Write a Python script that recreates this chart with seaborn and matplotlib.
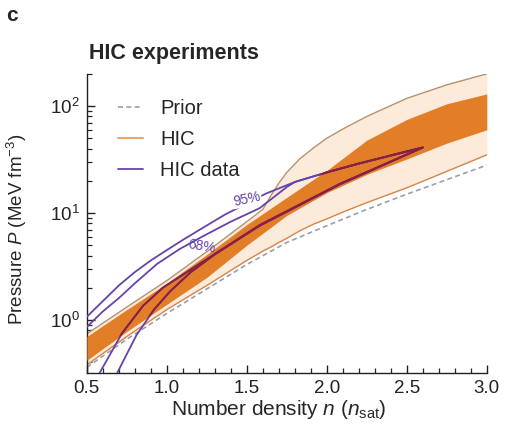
import matplotlib
matplotlib.use("Agg")
import numpy as np
import pandas as pd
import matplotlib.pyplot as plt
from matplotlib.lines import Line2D
from matplotlib.ticker import MultipleLocator, LogLocator, NullFormatter, FormatStrFormatter
import seaborn as sns

# HIC posterior bands (pressure in MeV fm^-3 vs density in n_sat)
n_dark = [0.5, 0.75, 1.0, 1.25, 1.5, 1.75, 2.0, 2.25, 2.5, 2.75, 3.0]
hic68_lo = [0.42, 0.78, 1.4, 2.5, 5.0, 9.5, 15.5, 23, 32, 45, 60]
hic68_hi = [0.7, 1.25, 2.2, 4.1, 7.8, 14, 25, 48, 75, 105, 130]
prior_lo = [0.36, 0.66, 1.15, 1.95, 3.3, 5.3, 7.6, 10.8, 15, 20.5, 28]

n_light = [0.5, 0.75, 1.0, 1.25, 1.5, 1.6, 1.65, 1.7, 1.75, 1.83, 1.92,
           2.0, 2.1, 2.25, 2.5, 2.75, 3.0]
hic95_lo = [0.38, 0.7, 1.25, 2.1, 3.6, 4.4, 4.8, 5.3, 5.8, 6.8, 7.9,
            8.8, 10.2, 12.5, 17.2, 24.5, 35]
hic95_hi = [0.74, 1.32, 2.33, 4.35, 8.3, 10.8, 14.5, 19, 24, 32, 41,
            50, 61, 80, 118, 158, 200]

# HIC data contours (closed paths: upper branch out to the tip, lower branch back)
data95_n = [0.5, 0.6, 0.7, 0.8, 0.9, 1.0, 1.1, 1.2, 1.36, 1.5, 1.62, 1.8,
            2.0, 2.2, 2.4, 2.6,
            2.08, 1.58, 1.3, 1.15, 1.02, 0.92, 0.81, 0.69]
data95_p = [1.07, 1.5, 2.1, 2.8, 3.6, 4.5, 5.6, 6.9, 9.6, 12.3, 15.2, 19.5,
            24, 29, 34.5, 41,
            18.5, 7.6, 4.1, 2.8, 1.85, 1.25, 0.72, 0.32]
data68_n = [0.5, 0.6, 0.7, 0.8, 0.94, 1.08, 1.22, 1.4, 1.58, 1.75, 1.8,
            2.0, 2.2, 2.4, 2.6,
            2.08, 1.58, 1.25, 0.975, 0.85, 0.72, 0.58]
data68_p = [0.86, 1.2, 1.6, 2.2, 3.35, 4.6, 6.0, 8.3, 11.1, 17.5, 19.5,
            24, 29, 34.5, 41,
            18.7, 7.7, 3.7, 2.0, 1.35, 0.75, 0.32]

c_dark = "#E27E27"
c_light = "#FCEADB"
c_edge_hi = "#B8906E"
c_edge_lo = "#D4874A"
c_prior = "#9A9FAE"
c_purple = "#6643A8"
c_maroon = "#8C1E40"

sns.set_style("ticks")
plt.rcParams["font.family"] = ["Liberation Sans", "DejaVu Sans"]
plt.rcParams["mathtext.fontset"] = "custom"
plt.rcParams["mathtext.rm"] = "Liberation Sans"
plt.rcParams["mathtext.it"] = "Liberation Sans:italic"

fig = plt.figure(figsize=(5.05, 4.32), dpi=100)
ax = fig.add_axes([0.172, 0.137, 0.792, 0.692])

ax.fill_between(n_light, hic95_lo, hic95_hi, color=c_light, lw=0, zorder=1)
sns.lineplot(x=n_light, y=hic95_hi, ax=ax, color=c_edge_hi, lw=1.0, zorder=2)
sns.lineplot(x=n_light, y=hic95_lo, ax=ax, color=c_edge_lo, lw=1.0, zorder=2)
sns.lineplot(x=n_dark, y=prior_lo, ax=ax, color=c_prior, lw=1.2,
             linestyle=(0, (3, 2)), zorder=1.5)
dark = ax.fill_between(n_dark, hic68_lo, hic68_hi, color=c_dark, lw=0, zorder=3)

clip = dark.get_paths()[0]
for xs, ys in [(data95_n, data95_p), (data68_n, data68_p)]:
    df = pd.DataFrame({"n": xs, "P": ys})
    sns.lineplot(data=df, x="n", y="P", ax=ax, sort=False, estimator=None,
                 color=c_purple, lw=1.3, zorder=4)
    sns.lineplot(data=df, x="n", y="P", ax=ax, sort=False, estimator=None,
                 color=c_maroon, lw=1.4, zorder=5)
    ax.lines[-1].set_clip_path(clip, transform=ax.transData)

ax.text(1.5, 13.6, "95%", color=c_purple, fontsize=10, rotation=12,
        ha="center", va="center", zorder=6,
        bbox=dict(facecolor="white", edgecolor="none", pad=0.6))
ax.text(1.22, 4.9, "68%", color=c_purple, fontsize=10, rotation=-10,
        ha="center", va="center", zorder=6)

ax.set_yscale("log")
ax.set_xlim(0.5, 3.0)
ax.set_ylim(0.32, 200)
ax.xaxis.set_major_locator(MultipleLocator(0.5))
ax.xaxis.set_minor_locator(MultipleLocator(0.1))
ax.xaxis.set_major_formatter(FormatStrFormatter("%.1f"))
ax.yaxis.set_major_locator(LogLocator(base=10, numticks=10))
ax.yaxis.set_minor_locator(LogLocator(base=10, subs=np.arange(2, 10), numticks=20))
ax.yaxis.set_minor_formatter(NullFormatter())
ax.tick_params(which="major", direction="in", length=6, width=1, labelsize=13.5,
               colors="#222222", pad=5)
ax.tick_params(which="minor", direction="in", length=3.5, width=0.9)
sns.despine(ax=ax)
for s in ["left", "bottom"]:
    ax.spines[s].set_linewidth(1.0)
    ax.spines[s].set_color("#222222")

ax.set_xlabel(r"Number density $n$ ($n_{\rm sat}$)", fontsize=15)
ax.xaxis.set_label_coords(0.48, -0.085)
ax.set_ylabel(r"Pressure $P$ (MeV fm$^{-3}$)", fontsize=13.5)
ax.yaxis.set_label_coords(-0.145, 0.48)
ax.set_title("HIC experiments", loc="left", fontsize=15.5, fontweight="bold",
             pad=11, x=0.006)
fig.text(0.012, 0.985, "c", fontsize=15, fontweight="bold", va="top")

handles = [Line2D([], [], color=c_prior, lw=1.2, linestyle=(0, (3, 2))),
           Line2D([], [], color="#E6A96B", lw=1.5),
           Line2D([], [], color=c_purple, lw=1.3)]
ax.legend(handles, ["Prior", "HIC", "HIC data"], loc="upper left",
          bbox_to_anchor=(0.032, 0.977), frameon=False, fontsize=14.5,
          handlelength=1.25, handletextpad=0.85, labelspacing=0.6)

fig.savefig("out.png", dpi=100)
